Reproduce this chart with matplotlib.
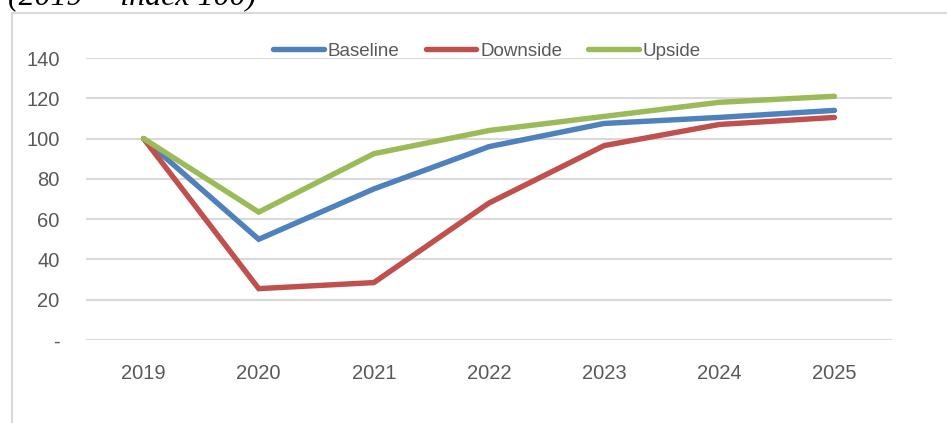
import matplotlib.pyplot as plt
from matplotlib.lines import Line2D

# dados (2019 = index 100)
anos = ["2019", "2020", "2021", "2022", "2023", "2024", "2025"]
baseline = [100, 50, 75, 96, 107.5, 110.5, 114]
downside = [100, 25.5, 28.5, 68, 96.5, 107, 110.5]
upside = [100, 63.5, 92.5, 104, 111, 118, 121]

W, H = 947, 423
fig = plt.figure(figsize=(W / 100, H / 100), dpi=100)

fonte = ["Liberation Sans", "DejaVu Sans"]
cinza = "#595959"

# moldura do gráfico (parcialmente cortada)
borda = "#d9d9d9"
fig.add_artist(Line2D([12 / W, 12 / W], [0, 1 - 13 / H], color=borda, lw=1.5, transform=fig.transFigure))
fig.add_artist(Line2D([12 / W, 1], [1 - 13 / H, 1 - 13 / H], color=borda, lw=1.5, transform=fig.transFigure))

# título cortado no topo
fig.text(8 / W, 1 - 5 / H, "(2019 = index 100)", family="Liberation Serif", style="italic",
         fontsize=23, color="black", va="baseline", ha="left")

ax = fig.add_axes([86 / W, 1 - 340 / H, (892 - 86) / W, (340 - 58) / H])
x = range(len(anos))
ax.plot(x, baseline, color="#4F81BD", lw=3.9, solid_capstyle="round", solid_joinstyle="miter", label="Baseline")
ax.plot(x, downside, color="#C0504D", lw=3.9, solid_capstyle="round", solid_joinstyle="miter", label="Downside")
ax.plot(x, upside, color="#9BBB59", lw=3.9, solid_capstyle="round", solid_joinstyle="miter", label="Upside")

ax.set_xlim(-0.5, len(anos) - 0.5)
ax.set_ylim(0, 140)
ax.set_yticks(range(0, 141, 20))
ax.set_yticklabels(["-"] + [str(v) for v in range(20, 141, 20)])
ax.set_xticks(list(x))
ax.set_xticklabels(anos)
ax.grid(axis="y", color="#d9d9d9", lw=1.5)
ax.set_axisbelow(True)
for s in ax.spines.values():
    s.set_visible(False)
ax.tick_params(length=0, labelsize=14.5, labelcolor=cinza)
ax.tick_params(axis="y", pad=19)
ax.tick_params(axis="x", pad=17)
for t in ax.get_xticklabels() + ax.get_yticklabels():
    t.set_family(fonte)

leg = fig.legend(loc="center", bbox_to_anchor=(487 / W, 1 - 51 / H), ncol=3, frameon=False,
                 prop={"family": fonte, "size": 13.5}, handlelength=2.7, handletextpad=0.2,
                 columnspacing=1.4)
for t in leg.get_texts():
    t.set_color(cinza)

fig.savefig("out.png", dpi=100)
